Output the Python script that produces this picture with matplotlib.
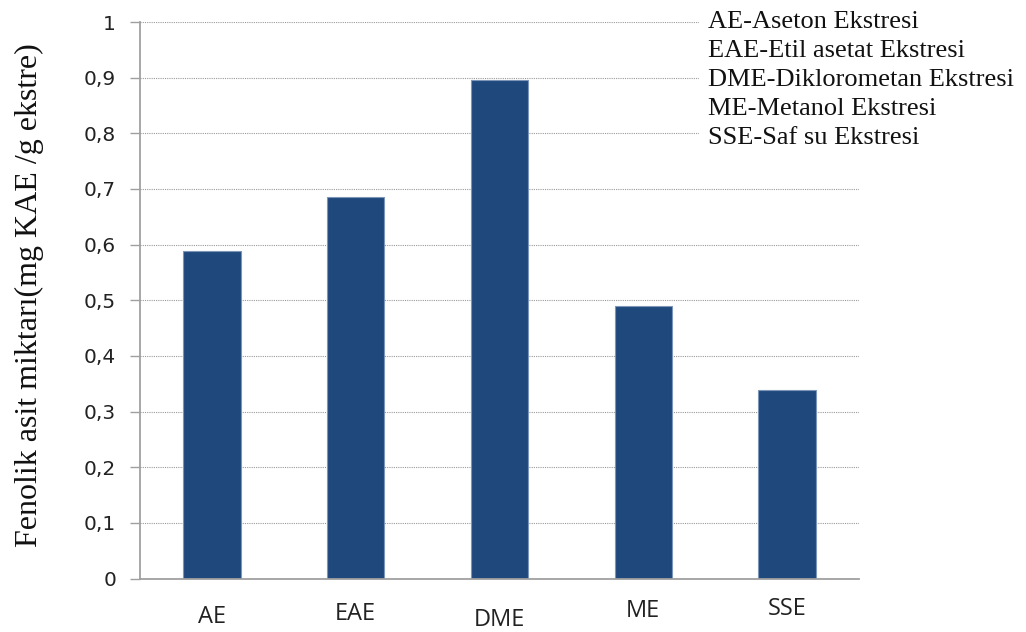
import matplotlib
matplotlib.use("Agg")
import matplotlib.pyplot as plt
import numpy as np

# Extract categories and total phenolic acid content (mg KAE / g extract)
categories = ["AE", "EAE", "DME", "ME", "SSE"]
values = [0.589, 0.685, 0.895, 0.489, 0.339]
y_ticks = [0, 0.1, 0.2, 0.3, 0.4, 0.5, 0.6, 0.7, 0.8, 0.9, 1.0]
y_tick_labels = ["0", "0,1", "0,2", "0,3", "0,4", "0,5", "0,6", "0,7", "0,8", "0,9", "1"]
legend_lines = [
    "AE-Aseton Ekstresi",
    "EAE-Etil asetat Ekstresi",
    "DME-Diklorometan Ekstresi",
    "ME-Metanol Ekstresi",
    "SSE-Saf su Ekstresi",
]
y_label = "Fenolik asit miktarı(mg KAE /g ekstre)"

# Slightly staggered category labels below the axis (points)
label_drop_pt = [32.0, 30.0, 34.0, 27.7, 26.3]

W, H = 1026, 632
fig = plt.figure(figsize=(W / 100, H / 100), dpi=100)
ax = fig.add_axes([140 / W, (H - 578.5) / H, (859 - 140) / W, (578.5 - 22) / H])

x = np.arange(len(categories))
ax.bar(x, values, width=0.4, color="#1F497D", edgecolor="#7d95b8", linewidth=0.8, zorder=3)

ax.set_xlim(-0.5, len(categories) - 0.5)
ax.set_ylim(0, 1.0)
ax.set_yticks(y_ticks)
ax.set_yticklabels(y_tick_labels, fontsize=14.5, family="DejaVu Sans", color="#222222")
ax.tick_params(axis="y", length=7.2, width=1.0, color="#a0a0a0", pad=10.0, direction="out")
ax.set_xticks([])

for i, (cat, drop) in enumerate(zip(categories, label_drop_pt)):
    ax.annotate(cat, xy=(x[i], 0), xycoords=("data", "axes fraction"),
                xytext=(0, -drop), textcoords="offset points",
                ha="center", va="baseline", fontsize=17, family="Open Sans",
                color="#222222")

ax.yaxis.grid(True, linestyle=(0, (1, 1)), color="#9a9a9a", linewidth=0.8, zorder=0)
ax.set_axisbelow(True)
for side in ("top", "right"):
    ax.spines[side].set_visible(False)
for side in ("left", "bottom"):
    ax.spines[side].set_color("#a0a0a0")
    ax.spines[side].set_linewidth(1.3)
    ax.spines[side].set_zorder(4)

fig.text(29 / W, (H - 295) / H, y_label, rotation=90, ha="center", va="center",
         fontsize=23, family="Liberation Serif", color="#111111")

# Abbreviation key in the top-right corner, one line per extract
line_step_px = 29
for k, line in enumerate(legend_lines):
    fig.text(708 / W, (H - (28 + k * line_step_px)) / H, line, ha="left", va="baseline",
             fontsize=19, family="Liberation Serif", color="#111111",
             bbox=dict(boxstyle="square,pad=0.35", facecolor="white", edgecolor="none"),
             zorder=10)

fig.savefig("out.png", dpi=100)
